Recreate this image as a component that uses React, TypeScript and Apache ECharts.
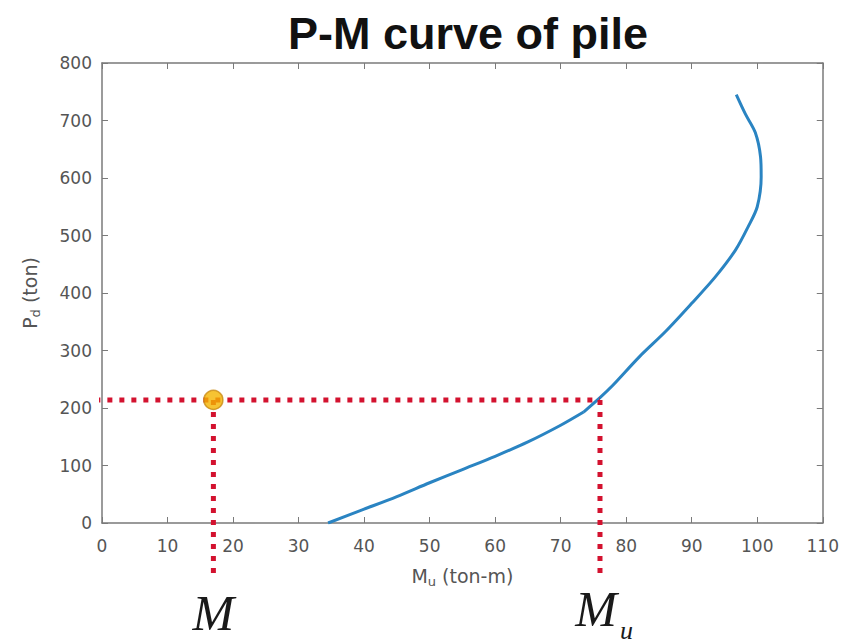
import React, { useEffect, useRef } from "react";
import * as echarts from "echarts";

// Interaction curve (M_u in ton-m, P_d in ton).
// Lower branch (tension-controlled) up to the balance kink, then the upper branch.
const lowerM = [34.5, 40, 45, 50, 55, 60, 65, 70, 73.5];
const lowerP = [0, 24, 46, 70, 93, 116, 141, 170, 193];
const upperM = [73.5, 76, 78, 82, 86, 90, 93.6, 96.7, 98.6, 100, 100.6, 100.5, 99.7, 98.2, 96.8];
const upperP = [193, 218, 240, 289, 333, 382, 428, 475, 515, 550, 602, 637, 679, 711, 745];

// Design point and guide lines
const designM = 17;
const designP = 214;
const capacityMu = 76;
const guideLeft = -12; // horizontal guide starts left of the axis
const guideBottom = -96; // vertical guides go below the axis

const xTicks = { min: 0, max: 110, interval: 10 };
const yTicks = { min: 0, max: 800, interval: 100 };

const titleText = "P-M curve of pile";

export default function App() {
  const ref = useRef<HTMLDivElement>(null);
  useEffect(() => {
    if (!ref.current) return;
    const chart = echarts.init(ref.current, null, { renderer: "svg" });
    const axisGray = "#7a7a7a";
    const labelGray = "#555555";
    const red = "#d3122f";
    const sans = "DejaVu Sans";
    const curveColor = "#2a84c2";
    const dotted = { color: red, width: 5, type: [5, 7] as any, cap: "butt" as any };
    const nameRich = {
      m: { fontFamily: sans, fontSize: 19, color: labelGray },
      s: { fontFamily: sans, fontSize: 13, color: labelGray, padding: [12, 0, 0, 0] },
    };
    const axisLineStyle = { show: true, onZero: false, lineStyle: { color: axisGray, width: 1.5 } };
    const tickStyle = { show: true, inside: true, length: 6, lineStyle: { color: axisGray } };
    chart.setOption({
      animation: false,
      backgroundColor: "#ffffff",
      title: {
        text: titleText,
        left: 463,
        textAlign: "center",
        top: 6,
        textStyle: { fontFamily: "Liberation Sans, Arial", fontSize: 45, fontWeight: "bold", color: "#111" },
      },
      grid: { left: 102, right: 14, top: 63, bottom: 121 },
      xAxis: [
        {
          type: "value",
          min: xTicks.min,
          max: xTicks.max,
          interval: xTicks.interval,
          name: "{m|M}{s|u}{m| (ton-m)}",
          nameLocation: "middle",
          nameGap: 40,
          nameTextStyle: { rich: nameRich },
          axisLine: axisLineStyle,
          axisTick: tickStyle,
          axisLabel: { fontFamily: sans, fontSize: 17, color: labelGray, margin: 14 },
          splitLine: { show: false },
        },
        {
          type: "value",
          position: "top",
          min: xTicks.min,
          max: xTicks.max,
          interval: xTicks.interval,
          axisLine: axisLineStyle,
          axisTick: tickStyle,
          axisLabel: { show: false },
          splitLine: { show: false },
        },
      ],
      yAxis: [
        {
          type: "value",
          min: yTicks.min,
          max: yTicks.max,
          interval: yTicks.interval,
          name: "{m|P}{s|d}{m| (ton)}",
          nameLocation: "middle",
          nameGap: 60,
          nameTextStyle: { rich: nameRich },
          axisLine: axisLineStyle,
          axisTick: tickStyle,
          axisLabel: { fontFamily: sans, fontSize: 17, color: labelGray, margin: 10 },
          splitLine: { show: false },
        },
        {
          type: "value",
          position: "right",
          min: yTicks.min,
          max: yTicks.max,
          interval: yTicks.interval,
          axisLine: axisLineStyle,
          axisTick: tickStyle,
          axisLabel: { show: false },
          splitLine: { show: false },
        },
      ],
      series: [
        {
          type: "line",
          data: lowerM.map((m, i) => [m, lowerP[i]]),
          showSymbol: false,
          symbol: "none",
          smooth: 0.3,
          lineStyle: { color: curveColor, width: 3, join: "round" },
          z: 2,
        },
        {
          type: "line",
          data: upperM.map((m, i) => [m, upperP[i]]),
          showSymbol: false,
          symbol: "none",
          smooth: 0.3,
          lineStyle: { color: curveColor, width: 3, join: "round" },
          z: 2,
        },
        {
          type: "line",
          clip: false,
          data: [
            [guideLeft, designP],
            [capacityMu, designP],
          ],
          symbol: "none",
          lineStyle: dotted,
          z: 3,
        },
        {
          type: "line",
          clip: false,
          data: [
            [designM, designP],
            [designM, guideBottom],
          ],
          symbol: "none",
          lineStyle: dotted,
          z: 3,
        },
        {
          type: "line",
          clip: false,
          data: [
            [capacityMu, designP],
            [capacityMu, guideBottom],
          ],
          symbol: "none",
          lineStyle: dotted,
          z: 3,
        },
        {
          type: "scatter",
          data: [[designM, designP]],
          symbol: "circle",
          symbolSize: 19,
          itemStyle: { color: "#f4b400", borderColor: "#c98a12", borderWidth: 1.5 },
          z: 5,
        },
      ],
    });
    const pM = chart.convertToPixel({ gridIndex: 0 }, [designM, 0]) as number[];
    const pMu = chart.convertToPixel({ gridIndex: 0 }, [capacityMu, 0]) as number[];
    const serif = "Liberation Serif, Times New Roman, serif";
    chart.setOption({
      graphic: [
        {
          type: "text",
          x: pM[0],
          y: 638,
          style: {
            text: "M",
            font: `italic 50px ${serif}`,
            fill: "#1a1a1a",
            align: "center",
            verticalAlign: "bottom",
          },
        },
        {
          type: "text",
          x: pMu[0] - 4,
          y: 634,
          style: {
            text: "M",
            font: `italic 50px ${serif}`,
            fill: "#1a1a1a",
            align: "center",
            verticalAlign: "bottom",
          },
        },
        {
          type: "text",
          x: pMu[0] + 20,
          y: 643,
          style: {
            text: "u",
            font: `italic 26px ${serif}`,
            fill: "#1a1a1a",
            align: "left",
            verticalAlign: "bottom",
          },
        },
      ],
    });
    return () => chart.dispose();
  }, []);
  return <div ref={ref} style={{ position: "absolute", left: 0, top: 0, width: 842, height: 644 }} />;
}
